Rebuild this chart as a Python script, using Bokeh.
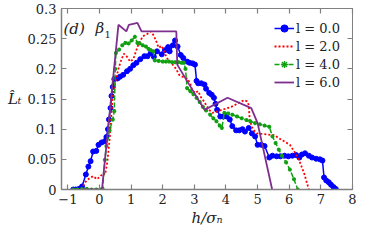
from bokeh.plotting import figure
from bokeh.models import (Range1d, FixedTicker, LinearAxis, Label, Legend, LegendItem)
from bokeh.embed import file_html
from bokeh.resources import INLINE

# ---------------- data ----------------
x_l0 = [-0.83, -0.75, -0.65, -0.55, -0.43, -0.35, -0.28, -0.2, -0.1, -0.03, 0.07, 0.17, 0.22, 0.27, 0.3,
        0.35, 0.38, 0.42, 0.47, 0.57, 0.65, 0.75, 0.87, 0.97, 1.07, 1.17, 1.29, 1.42, 1.52, 1.62, 1.72,
        1.82, 1.97, 2.07, 2.17, 2.22, 2.32, 2.39, 2.47, 2.57, 2.65, 2.77, 2.85, 2.95, 3.02, 3.07, 3.12,
        3.22, 3.32, 3.37, 3.47, 3.55, 3.62, 3.67, 3.72, 3.82, 3.92, 4.02, 4.12, 4.2, 4.32, 4.42, 4.52,
        4.6, 4.72, 4.82, 4.92, 5.0, 5.12, 5.22, 5.37, 5.47, 5.6, 5.72, 5.85, 5.97, 6.1, 6.22, 6.32, 6.4,
        6.5, 6.62, 6.72, 6.85, 6.97, 7.05, 7.1, 7.17, 7.25, 7.32, 7.4, 7.47]
y_l0 = [0.0, 0.0, 0.001, 0.005, 0.025, 0.038, 0.047, 0.063, 0.064, 0.074, 0.078, 0.08, 0.087, 0.1, 0.116,
        0.135, 0.155, 0.17, 0.183, 0.184, 0.187, 0.19, 0.196, 0.2, 0.206, 0.21, 0.216, 0.221, 0.221, 0.226, 0.22,
        0.229, 0.224, 0.231, 0.236, 0.229, 0.239, 0.247, 0.237, 0.223, 0.218, 0.212, 0.21, 0.209, 0.207, 0.18, 0.176,
        0.176, 0.174, 0.167, 0.16, 0.157, 0.152, 0.142, 0.132, 0.121, 0.121, 0.121, 0.116, 0.105, 0.098, 0.098, 0.1,
        0.096, 0.102, 0.093, 0.088, 0.074, 0.074, 0.072, 0.053, 0.056, 0.055, 0.055, 0.056, 0.055, 0.056, 0.057, 0.053, 0.058,
        0.06, 0.056, 0.053, 0.051, 0.05, 0.048, 0.02, 0.015, 0.012, 0.008, 0.004, 0.001]

x_l2 = [-0.57, -0.48, -0.4, -0.33, -0.2, -0.08, 0.03, 0.12, 0.18, 0.25, 0.33, 0.37, 0.42, 0.52, 0.6, 0.67,
        0.77, 0.87, 0.97, 1.07, 1.22, 1.37, 1.52, 1.62, 1.72, 1.8, 1.87, 1.97, 2.07, 2.17, 2.27, 2.42, 2.52,
        2.62, 2.77, 2.87, 2.92, 3.02, 3.12, 3.22, 3.32, 3.37, 3.47, 3.57, 4.17, 4.57, 4.67, 4.72, 4.75, 4.85,
        4.97, 5.52, 5.77, 6.02, 6.22, 6.33, 6.47, 6.62]
y_l2 = [0.0, 0.01, 0.015, 0.018, 0.022, 0.017, 0.022, 0.027, 0.025, 0.046, 0.088, 0.12, 0.155, 0.182, 0.2, 0.212,
        0.225, 0.22, 0.212, 0.216, 0.239, 0.254, 0.258, 0.262, 0.255, 0.245, 0.235, 0.238, 0.225, 0.215, 0.21, 0.2, 0.19,
        0.187, 0.184, 0.176, 0.166, 0.16, 0.163, 0.152, 0.145, 0.14, 0.132, 0.127, 0.137, 0.148, 0.146, 0.14, 0.115, 0.1,
        0.093, 0.09, 0.082, 0.074, 0.058, 0.046, 0.027, 0.0]

x_l4 = [-0.83, -0.7, -0.55, -0.4, -0.25, -0.1, 0.05, 0.1, 0.17, 0.22, 0.32, 0.42, 0.47, 0.5, 0.52, 0.62, 0.72,
        0.82, 0.92, 1.02, 1.12, 1.2, 1.27, 1.37, 1.47, 1.55, 1.62, 1.7, 1.75, 1.87, 2.0, 2.1, 2.2, 2.3, 2.4,
        2.5, 2.6, 2.67, 2.72, 2.77, 2.87, 2.97, 3.07, 3.17, 3.27, 3.37, 3.5, 3.6, 3.7, 3.8, 3.87, 3.95, 4.07,
        4.2, 4.35, 4.5, 4.65, 4.77, 4.92, 5.07, 5.22, 5.37, 5.47, 5.57, 5.67, 5.77, 5.9, 6.02, 6.15, 6.27]
y_l4 = [0.0, 0.0, 0.001, 0.001, 0.0, 0.0, 0.0, 0.001, 0.049, 0.072, 0.098, 0.116, 0.13, 0.2, 0.226, 0.232, 0.239,
        0.243, 0.242, 0.247, 0.253, 0.243, 0.242, 0.239, 0.237, 0.233, 0.231, 0.229, 0.214, 0.213, 0.212, 0.212, 0.212, 0.211, 0.211,
        0.211, 0.21, 0.21, 0.2, 0.168, 0.163, 0.158, 0.152, 0.145, 0.137, 0.131, 0.124, 0.118, 0.113, 0.106, 0.102, 0.127, 0.126,
        0.124, 0.121, 0.118, 0.115, 0.113, 0.11, 0.108, 0.106, 0.104, 0.088, 0.077, 0.066, 0.056, 0.045, 0.033, 0.017, 0.0]

x_l6 = [-0.55, 0.08, 0.6, 0.85, 0.93, 1.2, 1.33, 2.43, 2.46, 3.32, 4.05, 4.8, 5.0, 5.46]
y_l6 = [0.0, 0.0, 0.273, 0.262, 0.273, 0.276, 0.262, 0.262, 0.207, 0.132, 0.152, 0.135, 0.11, 0.0]

series_labels = ["l = 0.0", "l = 2.0", "l = 4.0", "l = 6.0"]
x_ticks = [-1, 0, 1, 2, 3, 4, 5, 6, 7, 8]
y_ticks = [0, 0.05, 0.1, 0.15, 0.2, 0.25, 0.3]
y_tick_labels = ["0", "0.05", "0.1", "0.15", "0.2", "0.25", "0.3"]

# ---------------- layout ----------------
XMIN, XMAX, YMIN, YMAX = -1.2, 8.0, 0.0, 0.3
W, H = 357, 229
FL, FR, FT, FB = 61, 352, 8, 189  # frame edges in picture px


def dx(px):
    return XMIN + (px - FL) / (FR - FL) * (XMAX - XMIN)


def dy(py):
    return YMIN + (FB - py) / (FB - FT) * (YMAX - YMIN)


SERIF = "DejaVu Serif"
AX = "#808080"
TXT = "#222222"

p = figure(width=W, height=H, output_backend="svg", toolbar_location=None,
           x_range=Range1d(XMIN, XMAX), y_range=Range1d(YMIN, YMAX),
           min_border_left=FL, min_border_right=W - FR, min_border_top=FT, min_border_bottom=H - FB)
p.grid.visible = False
p.outline_line_color = AX
p.outline_line_width = 1
p.background_fill_color = "white"
p.border_fill_color = "white"

for ax in (p.xaxis[0], p.yaxis[0]):
    ax.axis_line_color = AX
    ax.axis_line_width = 1.5
    ax.major_tick_line_color = AX
    ax.major_tick_line_width = 1.2
    ax.major_tick_in = 5
    ax.major_tick_out = 0
    ax.minor_tick_line_color = None
    ax.major_label_text_font = SERIF
    ax.major_label_text_font_size = "13px"
    ax.major_label_text_color = TXT
    ax.axis_label_text_font = SERIF
    ax.axis_label_text_font_style = "italic"
    ax.axis_label_text_font_size = "15px"
    ax.axis_label_text_color = TXT

p.xaxis[0].ticker = FixedTicker(ticks=x_ticks)
p.xaxis[0].major_label_standoff = 4
p.xaxis[0].axis_label = "h/σₙ"
p.xaxis[0].axis_label_standoff = 2
p.yaxis[0].ticker = FixedTicker(ticks=y_ticks)
p.yaxis[0].major_label_overrides = {t: s for t, s in zip(y_ticks, y_tick_labels)}
p.yaxis[0].major_label_standoff = 5
p.yaxis[0].axis_label = "L̂ₜ"
p.yaxis[0].axis_label_orientation = "horizontal"
p.yaxis[0].axis_label_standoff = 3

for loc, tk in (("above", x_ticks), ("right", y_ticks)):
    a = LinearAxis(ticker=FixedTicker(ticks=tk), major_label_text_font_size="1px",
                   major_label_text_color=None, major_label_standoff=0,
                   axis_line_color=AX, major_tick_line_color=AX, major_tick_line_width=1.2,
                   major_tick_in=5, major_tick_out=0, minor_tick_line_color=None)
    p.add_layout(a, loc)

BLUE, RED, GREEN, PURPLE = "#0000ff", "#ff0000", "#12a012", "#7e2f8e"

r0l = p.line(x_l0, y_l0, color=BLUE, line_width=1.5)
r0m = p.scatter(x_l0, y_l0, marker="circle", size=5, color=BLUE)
r1 = p.line(x_l2, y_l2, color=RED, line_width=1.8, line_dash="2 2")
r2l = p.line(x_l4, y_l4, color=GREEN, line_width=1.5, line_dash="5 2")
r2m = p.scatter(x_l4, y_l4, marker="asterisk", size=4, line_width=1.3, color=GREEN)
r3 = p.line(x_l6, y_l6, color=PURPLE, line_width=1.8)

legend = Legend(items=[LegendItem(label=series_labels[0], renderers=[r0l, r0m]),
                       LegendItem(label=series_labels[1], renderers=[r1]),
                       LegendItem(label=series_labels[2], renderers=[r2l, r2m]),
                       LegendItem(label=series_labels[3], renderers=[r3])],
                border_line_color=None, background_fill_alpha=0,
                padding=2, spacing=0, margin=0, label_height=18, glyph_height=18, glyph_width=20,
                label_standoff=2, label_text_font=SERIF, label_text_font_size="13px",
                label_text_color=TXT)
legend.location = (213, 98)
p.add_layout(legend, "center")

lab_kw = dict(text_font=SERIF, text_color=TXT, text_baseline="middle")
p.add_layout(Label(x=dx(63), y=dy(28), text="(d)", text_font_style="italic", text_font_size="15px", **lab_kw))
p.add_layout(Label(x=dx(95), y=dy(27), text="β", text_font_style="italic", text_font_size="15px", **lab_kw))
p.add_layout(Label(x=dx(104), y=dy(34), text="1", text_font_size="10px", **lab_kw))

open("out.html", "w").write(file_html(p, INLINE))
